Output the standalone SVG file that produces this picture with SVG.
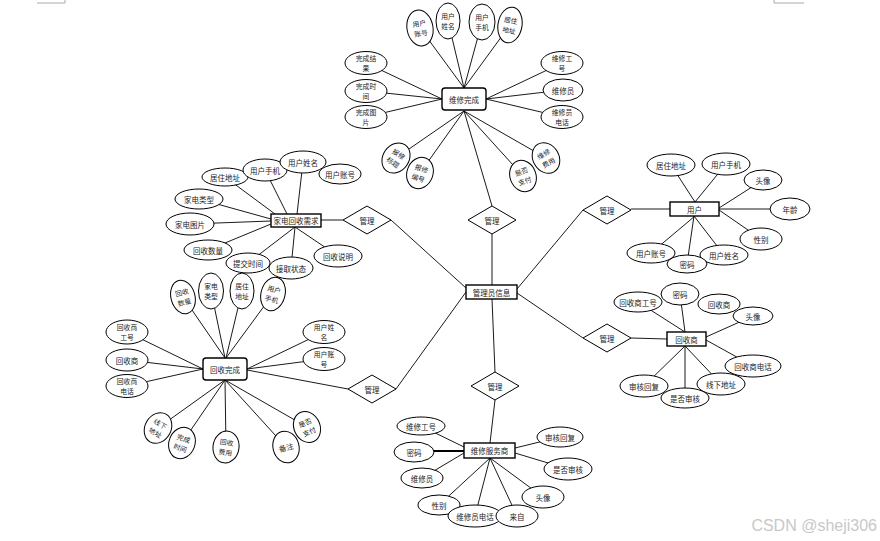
<svg xmlns="http://www.w3.org/2000/svg" width="880" height="541" viewBox="0 0 880 541">
<style>
.e{fill:#fff;stroke:#000;stroke-width:1}
.r{fill:#fff;stroke:#000;stroke-width:1.4}
.d{fill:#fff;stroke:#000;stroke-width:1}
.l{stroke:#000;stroke-width:0.9;fill:none}
text{font-family:"Noto Sans CJK SC","Noto Sans",sans-serif;font-size:7.5px;text-anchor:middle;dominant-baseline:central;fill:#222}
text.t{font-size:6.8px}
.wm{font-family:"Liberation Sans",Arial,sans-serif;font-size:16px;text-anchor:end;dominant-baseline:alphabetic;fill:#c8c8c8}
</style>
<defs>
<polygon id="dm" points="-24,0 0,-14 24,0 0,14"/>
</defs>
<rect width="880" height="541" fill="#fff"/>
<path d="M37,3H65V0M774,0V3H804" stroke="#aaa" stroke-width="1" fill="none"/>
<g id="connectors" class="l">
<path d="M420,28L464,88M448,21L464,88M482,22L464,88M510,25L464,88M366,63L442,99M366,91L442,99M366,117L442,99M562,63L486,99M563,90L486,99M562,117L486,99M396,158L464,111M420,173L464,111M523,176L464,111M546,158L464,111M464,111L492,206"/>
<path d="M225,177L275,214M265,170L287,214M303,162L297,214M199,199L271,219M190,224L271,221M208,250L271,224M248,263L295,227M291,268L295,227M338,256L295,227M321,220L343,220"/>
<path d="M671,165L695,202M726,164L695,202M763,180L719,208M790,209L719,209M761,239L719,210M651,253L695,216M687,264L694,216M724,255L694,216M631,209L670,209"/>
<path d="M183,297L225,358M211,291L225,358M242,291L226,358M273,294L226,358M127,332L203,369M127,360L203,369M127,386L203,369M324,332L247,369M324,359L247,369M247,370L348,389M158,428L225,380M182,443L225,380M226,447L225,380M286,447L225,380M307,427L225,380"/>
<path d="M638,302L685,332M680,294L685,332M753,316L706,337M753,366L706,340M644,386L685,346M685,398L685,346M721,384L685,346M631,338L667,339"/>
<path d="M421,426L464,447M422,478L464,453M560,437L515,448M568,469L515,453M543,497L490,458M439,505L490,458M475,516L490,458M517,516L490,458M495,400L490,443"/>
<path d="M414,451L464,451" stroke-width="2"/>
<path d="M492,234L492,285M492,299L495,372M391,220L466,288M396,389L466,292M583,210L517,289M583,338L517,293"/>
</g>

<!-- central & relationships -->
<g id="admin"><rect class="r" x="466" y="285" width="51" height="14"/><text x="491.5" y="292">管理员信息</text></g>
<g id="rel-top" transform="translate(492,220)"><use href="#dm" class="d"/><text>管理</text></g>
<g id="rel-left-up" transform="translate(367,220)"><use href="#dm" class="d"/><text>管理</text></g>
<g id="rel-right-up" transform="translate(607,210)"><use href="#dm" class="d"/><text>管理</text></g>
<g id="rel-right-down" transform="translate(607,338)"><use href="#dm" class="d"/><text>管理</text></g>
<g id="rel-left-down" transform="translate(372,389)"><use href="#dm" class="d"/><text>管理</text></g>
<g id="rel-bottom" transform="translate(495,386)"><use href="#dm" class="d"/><text>管理</text></g>

<!-- 维修完成 -->
<g id="repair-done"><rect class="r" x="442" y="88" width="44" height="22" rx="3"/><text x="464" y="99">维修完成</text></g>
<g id="rd-account" transform="translate(420,28) rotate(-10)"><ellipse class="e" rx="13" ry="18"/><text class="t" y="-5">用户</text><text class="t" y="5">账号</text></g>
<g id="rd-name" transform="translate(448,21)"><ellipse class="e" rx="12" ry="18"/><text class="t" y="-5">用户</text><text class="t" y="5">姓名</text></g>
<g id="rd-phone" transform="translate(482,22)"><ellipse class="e" rx="13" ry="18"/><text class="t" y="-5">用户</text><text class="t" y="5">手机</text></g>
<g id="rd-addr" transform="translate(510,25) rotate(10)"><ellipse class="e" rx="12" ry="18"/><text class="t" y="-5">居住</text><text class="t" y="5">地址</text></g>
<g id="rd-result" transform="translate(366,63)"><ellipse class="e" rx="21" ry="11.5"/><text class="t" y="-5">完成结</text><text class="t" y="5">果</text></g>
<g id="rd-time" transform="translate(366,91)"><ellipse class="e" rx="21" ry="11.5"/><text class="t" y="-5">完成时</text><text class="t" y="5">间</text></g>
<g id="rd-pic" transform="translate(366,117)"><ellipse class="e" rx="21" ry="11.5"/><text class="t" y="-5">完成图</text><text class="t" y="5">片</text></g>
<g id="rd-worker-no" transform="translate(562,63)"><ellipse class="e" rx="21" ry="11.5"/><text class="t" y="-5">维修工</text><text class="t" y="5">号</text></g>
<g id="rd-worker" transform="translate(563,90)"><ellipse class="e" rx="20" ry="11"/><text>维修员</text></g>
<g id="rd-worker-tel" transform="translate(562,117)"><ellipse class="e" rx="21" ry="11.5"/><text class="t" y="-5">维修员</text><text class="t" y="5">电话</text></g>
<g id="rd-title" transform="translate(396,158) rotate(35)"><ellipse class="e" rx="13" ry="16"/><text class="t" y="-5">报修</text><text class="t" y="5">标题</text></g>
<g id="rd-no" transform="translate(420,173) rotate(20)"><ellipse class="e" rx="13" ry="16"/><text class="t" y="-5">报修</text><text class="t" y="5">编号</text></g>
<g id="rd-paid" transform="translate(523,176) rotate(-20)"><ellipse class="e" rx="13" ry="16"/><text class="t" y="-5">是否</text><text class="t" y="5">支付</text></g>
<g id="rd-fee" transform="translate(546,158) rotate(-30)"><ellipse class="e" rx="13" ry="16"/><text class="t" y="-5">维修</text><text class="t" y="5">费用</text></g>

<!-- 家电回收需求 -->
<g id="recycle-req"><rect class="r" x="271" y="214" width="50" height="13"/><text x="296" y="220.5">家电回收需求</text></g>
<g id="rq-addr" transform="translate(225,177)"><ellipse class="e" rx="23" ry="9"/><text>居住地址</text></g>
<g id="rq-phone" transform="translate(265,170)"><ellipse class="e" rx="22" ry="11"/><text>用户手机</text></g>
<g id="rq-name" transform="translate(303,162)"><ellipse class="e" rx="23" ry="11"/><text>用户姓名</text></g>
<g id="rq-account" transform="translate(340,174)"><ellipse class="e" rx="21" ry="10"/><text>用户账号</text></g>
<g id="rq-type" transform="translate(199,199)"><ellipse class="e" rx="24" ry="10"/><text>家电类型</text></g>
<g id="rq-pic" transform="translate(190,224)"><ellipse class="e" rx="24" ry="11"/><text>家电图片</text></g>
<g id="rq-qty" transform="translate(208,250)"><ellipse class="e" rx="24" ry="10"/><text>回收数量</text></g>
<g id="rq-time" transform="translate(248,263)"><ellipse class="e" rx="22" ry="10"/><text>提交时间</text></g>
<g id="rq-state" transform="translate(291,268)"><ellipse class="e" rx="22" ry="11"/><text>接取状态</text></g>
<g id="rq-desc" transform="translate(338,256)"><ellipse class="e" rx="24" ry="11"/><text>回收说明</text></g>

<!-- 用户 -->
<g id="user"><rect class="r" x="670" y="202" width="49" height="14"/><text x="694.5" y="209">用户</text></g>
<g id="u-addr" transform="translate(671,165)"><ellipse class="e" rx="24" ry="11"/><text>居住地址</text></g>
<g id="u-phone" transform="translate(726,164)"><ellipse class="e" rx="24" ry="11"/><text>用户手机</text></g>
<g id="u-avatar" transform="translate(763,180)"><ellipse class="e" rx="19" ry="10"/><text>头像</text></g>
<g id="u-age" transform="translate(790,209)"><ellipse class="e" rx="20" ry="11"/><text>年龄</text></g>
<g id="u-sex" transform="translate(761,239)"><ellipse class="e" rx="21" ry="11"/><text>性别</text></g>
<g id="u-account" transform="translate(651,253)"><ellipse class="e" rx="24" ry="10"/><text>用户账号</text></g>
<g id="u-name" transform="translate(724,255)"><ellipse class="e" rx="24" ry="10"/><text>用户姓名</text></g>
<g id="u-pwd" transform="translate(687,264)"><ellipse class="e" rx="20" ry="9"/><text>密码</text></g>

<!-- 回收完成 -->
<g id="recycle-done"><rect class="r" x="203" y="358" width="44" height="22" rx="3"/><text x="225" y="369">回收完成</text></g>
<g id="rc-qty" transform="translate(183,297) rotate(-15)"><ellipse class="e" rx="12" ry="17"/><text class="t" y="-5">回收</text><text class="t" y="5">数量</text></g>
<g id="rc-type" transform="translate(211,291)"><ellipse class="e" rx="12.5" ry="18"/><text class="t" y="-5">家电</text><text class="t" y="5">类型</text></g>
<g id="rc-addr" transform="translate(242,291)"><ellipse class="e" rx="12" ry="18"/><text class="t" y="-5">居住</text><text class="t" y="5">地址</text></g>
<g id="rc-phone" transform="translate(273,294) rotate(15)"><ellipse class="e" rx="12" ry="17"/><text class="t" y="-5">用户</text><text class="t" y="5">手机</text></g>
<g id="rc-rno" transform="translate(127,332)"><ellipse class="e" rx="21" ry="12"/><text class="t" y="-5">回收商</text><text class="t" y="5">工号</text></g>
<g id="rc-r" transform="translate(127,360)"><ellipse class="e" rx="21" ry="11"/><text>回收商</text></g>
<g id="rc-rtel" transform="translate(127,386)"><ellipse class="e" rx="21" ry="11.5"/><text class="t" y="-5">回收商</text><text class="t" y="5">电话</text></g>
<g id="rc-name" transform="translate(324,332)"><ellipse class="e" rx="21" ry="11.5"/><text class="t" y="-5">用户姓</text><text class="t" y="5">名</text></g>
<g id="rc-account" transform="translate(324,359)"><ellipse class="e" rx="21" ry="11.5"/><text class="t" y="-5">用户账</text><text class="t" y="5">号</text></g>
<g id="rc-offline" transform="translate(158,428) rotate(30)"><ellipse class="e" rx="13" ry="16"/><text class="t" y="-5">线下</text><text class="t" y="5">地址</text></g>
<g id="rc-time" transform="translate(182,443) rotate(20)"><ellipse class="e" rx="13" ry="16"/><text class="t" y="-5">完成</text><text class="t" y="5">时间</text></g>
<g id="rc-fee" transform="translate(226,447) rotate(8)"><ellipse class="e" rx="13" ry="16"/><text class="t" y="-5">回收</text><text class="t" y="5">费用</text></g>
<g id="rc-note" transform="translate(286,447) rotate(-15)"><ellipse class="e" rx="13" ry="16"/><text>备注</text></g>
<g id="rc-paid" transform="translate(307,427) rotate(-25)"><ellipse class="e" rx="13" ry="16"/><text class="t" y="-5">是否</text><text class="t" y="5">支付</text></g>

<!-- 回收商 -->
<g id="recycler"><rect class="r" x="667" y="332" width="39" height="14"/><text x="686.5" y="339">回收商</text></g>
<g id="rs-no" transform="translate(638,302)"><ellipse class="e" rx="24" ry="10"/><text>回收商工号</text></g>
<g id="rs-name" transform="translate(719,304)"><ellipse class="e" rx="21" ry="10"/><text>回收商</text></g>
<g id="rs-pwd" transform="translate(680,294)"><ellipse class="e" rx="19" ry="11"/><text>密码</text></g>
<g id="rs-avatar" transform="translate(753,316)"><ellipse class="e" rx="20" ry="9"/><text>头像</text></g>
<g id="rs-tel" transform="translate(753,366)"><ellipse class="e" rx="28" ry="11"/><text>回收商电话</text></g>
<g id="rs-reply" transform="translate(644,386)"><ellipse class="e" rx="24" ry="11"/><text>审核回复</text></g>
<g id="rs-offline" transform="translate(721,384)"><ellipse class="e" rx="24" ry="11"/><text>线下地址</text></g>
<g id="rs-audit" transform="translate(685,398)"><ellipse class="e" rx="24" ry="10"/><text>是否审核</text></g>

<!-- 维修服务商 -->
<g id="repairer"><rect class="r" x="464" y="443" width="51" height="15"/><text x="489.5" y="450.5">维修服务商</text></g>
<g id="rp-no" transform="translate(421,426)"><ellipse class="e" rx="24" ry="9"/><text>维修工号</text></g>
<g id="rp-pwd" transform="translate(414,452)"><ellipse class="e" rx="20" ry="10"/><text>密码</text></g>
<g id="rp-worker" transform="translate(422,478)"><ellipse class="e" rx="21" ry="10"/><text>维修员</text></g>
<g id="rp-reply" transform="translate(560,437)"><ellipse class="e" rx="23" ry="10"/><text>审核回复</text></g>
<g id="rp-audit" transform="translate(568,469)"><ellipse class="e" rx="24" ry="11"/><text>是否审核</text></g>
<g id="rp-avatar" transform="translate(543,497)"><ellipse class="e" rx="21" ry="11"/><text>头像</text></g>
<g id="rp-sex" transform="translate(439,505)"><ellipse class="e" rx="21" ry="10"/><text>性别</text></g>
<g id="rp-tel" transform="translate(475,516)"><ellipse class="e" rx="27" ry="11"/><text>维修员电话</text></g>
<g id="rp-from" transform="translate(517,516)"><ellipse class="e" rx="21" ry="11"/><text>来自</text></g>

<text class="wm" x="877" y="531">CSDN @sheji306</text>
</svg>
